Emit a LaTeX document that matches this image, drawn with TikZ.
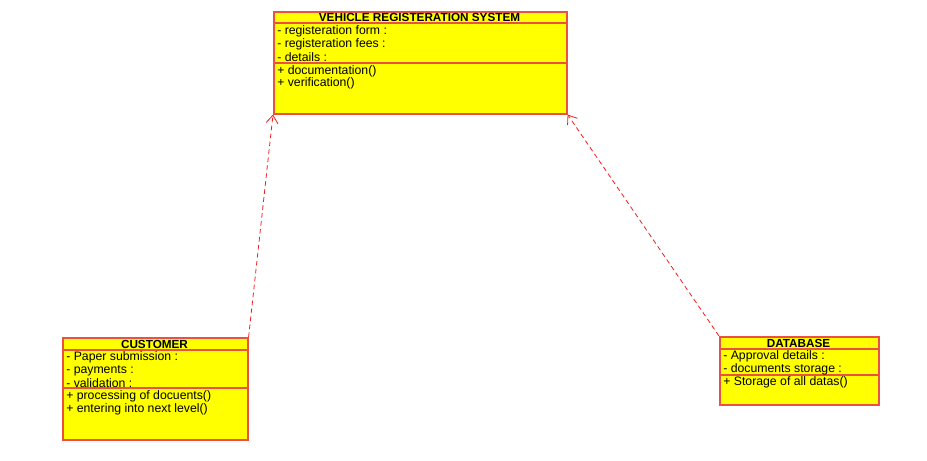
\documentclass[tikz,border=0pt]{standalone}
\usepackage{fontspec}
\setmainfont{Liberation Sans}
\usetikzlibrary{arrows.meta}
\definecolor{umlborder}{RGB}{236,80,64}
\definecolor{umlfill}{RGB}{255,255,0}
\definecolor{deplink}{RGB}{240,30,30}
\tikzset{
  classbox/.style={draw=umlborder, fill=umlfill, line width=1.2pt, inner sep=0pt, anchor=north west},
  sepline/.style={draw=umlborder, line width=1.2pt},
  title/.style={font=\fontsize{8.8}{11}\selectfont\bfseries, inner sep=0pt, anchor=center},
  member/.style={font=\fontsize{9.2}{11}\selectfont, inner sep=0pt, anchor=west},
  dep/.style={draw=deplink, dashed, dash pattern=on 3.5pt off 2.5pt, line width=0.6pt, -{Straight Barb[length=6pt,width=9pt]}}
}
\begin{document}
\begin{tikzpicture}[x=0.75pt,y=-0.75pt]
\useasboundingbox (0,0) rectangle (927,460);
% VEHICLE REGISTERATION SYSTEM
\node[classbox, minimum width=293*0.75pt, minimum height=102*0.75pt] (vrs) at (273,11) {};
\draw[sepline] (273,23) -- (566,23);
\draw[sepline] (273,63) -- (566,63);
\node[title] (vrsT) at (419.5,17.5) {VEHICLE REGISTERATION SYSTEM};
\node[member] (vrs1) at (277,31.5) {- registeration form :};
\node[member] (vrs2) at (277,44.5) {- registeration fees :};
\node[member] (vrs3) at (277,57.5) {- details :};
\node[member] (vrs4) at (277,71) {+ documentation()};
\node[member] (vrs5) at (277,83.5) {+ verification()};
% CUSTOMER
\node[classbox, minimum width=185*0.75pt, minimum height=102*0.75pt] (cust) at (62,337) {};
\draw[sepline] (62,350) -- (247,350);
\draw[sepline] (62,388) -- (247,388);
\node[title] (custT) at (154.5,344) {CUSTOMER};
\node[member] (cust1) at (66,357.5) {- Paper submission :};
\node[member] (cust2) at (66,370.5) {- payments :};
\node[member] (cust3) at (66,383.5) {- validation :};
\node[member] (cust4) at (66,396.5) {+ processing of docuents()};
\node[member] (cust5) at (66,409.5) {+ entering into next level()};
% DATABASE
\node[classbox, minimum width=159*0.75pt, minimum height=68*0.75pt] (db) at (719,336) {};
\draw[sepline] (719,349) -- (878,349);
\draw[sepline] (719,375) -- (878,375);
\node[title] (dbT) at (798.5,343) {DATABASE};
\node[member] (db1) at (723,356.5) {- Approval details :};
\node[member] (db2) at (723,369.5) {- documents storage :};
\node[member] (db3) at (723,382.5) {+ Storage of all datas()};
% dependencies
\draw[dep] (cust.north east) -- (vrs.south west);
\draw[dep] (db.north west) -- (vrs.south east);
\end{tikzpicture}
\end{document}
